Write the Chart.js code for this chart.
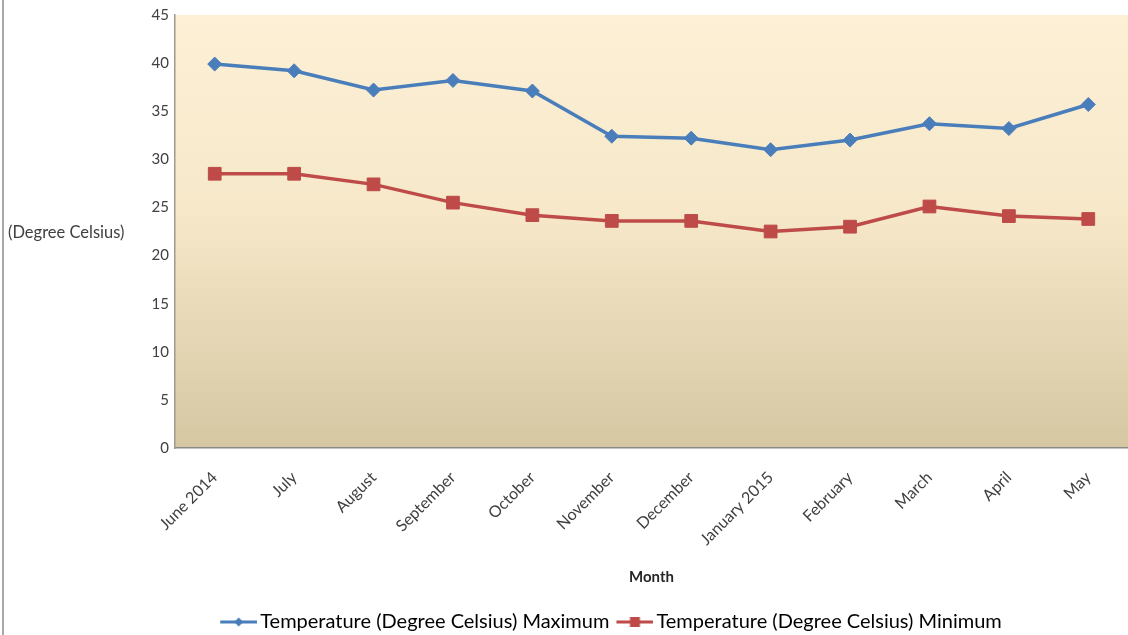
<!DOCTYPE html>
<html>
<head>
<meta charset="utf-8">
<script src="https://cdn.jsdelivr.net/npm/chart.js@4.4.1/dist/chart.umd.min.js"></script>
<style>
  html, body { margin: 0; padding: 0; background: #fff; }
  #wrap { width: 1128px; height: 635px; position: relative; }
</style>
</head>
<body>
<div id="wrap"><canvas id="chart" width="1128" height="635"></canvas></div>
<script>
const months = ['June 2014', 'July', 'August', 'September', 'October', 'November',
  'December', 'January 2015', 'February', 'March', 'April', 'May'];
const tempMax = [39.9, 39.2, 37.2, 38.2, 37.1, 32.4, 32.2, 31.0, 32.0, 33.7, 33.2, 35.7];
const tempMin = [28.5, 28.5, 27.4, 25.5, 24.2, 23.6, 23.6, 22.5, 23.0, 25.1, 24.1, 23.8];
const yMin = 0;
const yMax = 45;
const yStep = 5;

const FONT = 'Lato, "Open Sans", sans-serif';
const BLUE = '#4a7ebb';
const RED = '#be4b48';

// legend symbol: short line with the marker in the middle (drawn off-centre so
// the gap to the text is small, like the spreadsheet legend)
function legendIcon(color, shape) {
  const c = document.createElement('canvas');
  c.width = 48;
  c.height = 16;
  const g = c.getContext('2d');
  g.strokeStyle = color;
  g.lineWidth = 3;
  g.beginPath();
  g.moveTo(11, 8);
  g.lineTo(48, 8);
  g.stroke();
  g.fillStyle = color;
  g.beginPath();
  if (shape === 'diamond') {
    g.moveTo(29.5, 3.5); g.lineTo(34, 8); g.lineTo(29.5, 12.5); g.lineTo(25, 8);
  } else {
    g.rect(24.5, 3, 10, 10);
  }
  g.closePath();
  g.fill();
  return c;
}

const plotBackground = {
  id: 'plotBackground',
  beforeDraw(chart) {
    const { ctx, chartArea: a } = chart;
    const grad = ctx.createLinearGradient(0, a.top, 0, a.bottom);
    grad.addColorStop(0, '#fdf0d6');
    grad.addColorStop(0.45, '#f6e8c9');
    grad.addColorStop(1, '#d6c7a3');
    ctx.save();
    ctx.fillStyle = grad;
    ctx.fillRect(a.left, a.top, a.right - a.left, a.bottom - a.top);
    // outer frame on the left
    ctx.fillStyle = '#a8a8a8';
    ctx.fillRect(2, 0, 2, chart.height);
    ctx.restore();
  },
  afterDraw(chart) {
    const { ctx, chartArea: a } = chart;
    ctx.save();
    ctx.font = '16.5px ' + FONT;
    ctx.fillStyle = '#404040';
    ctx.textAlign = 'left';
    ctx.textBaseline = 'middle';
    ctx.fillText('(Degree Celsius)', 8, (a.top + a.bottom) / 2 + 1);
    ctx.restore();
  }
};

new Chart(document.getElementById('chart'), {
  type: 'line',
  data: {
    labels: months,
    datasets: [
      {
        label: 'Temperature (Degree Celsius) Maximum',
        data: tempMax,
        borderColor: BLUE,
        backgroundColor: BLUE,
        borderWidth: 3.5,
        pointStyle: 'rectRot',
        pointRadius: 7,
        pointBorderWidth: 1,
        tension: 0,
      },
      {
        label: 'Temperature (Degree Celsius) Minimum',
        data: tempMin,
        borderColor: RED,
        backgroundColor: RED,
        borderWidth: 3.5,
        pointStyle: 'rect',
        pointRadius: 9,
        pointBorderWidth: 1,
        tension: 0,
      },
    ],
  },
  options: {
    responsive: false,
    animation: false,
    layout: {
      autoPadding: false,
      padding: { left: 90, right: 0, top: 14, bottom: -7 },
    },
    plugins: {
      tooltip: { enabled: false },
      legend: {
        position: 'bottom',
        labels: {
          usePointStyle: true,
          pointStyleWidth: 34,
          padding: 3,
          color: '#404040',
          font: { family: FONT, size: 20 },
          generateLabels(chart) {
            return chart.data.datasets.map((ds, i) => ({
              text: ds.label,
              fillStyle: ds.borderColor,
              strokeStyle: ds.borderColor,
              lineWidth: 0,
              pointStyle: legendIcon(ds.borderColor, i === 0 ? 'diamond' : 'square'),
              datasetIndex: i,
              hidden: false,
            }));
          },
        },
      },
    },
    scales: {
      x: {
        offset: true,
        grid: { display: false, drawTicks: false },
        border: { color: '#8a8a8a', width: 1.5 },
        ticks: {
          minRotation: 45,
          maxRotation: 45,
          padding: 20,
          color: '#404040',
          font: { family: FONT, size: 16 },
        },
        title: {
          display: true,
          text: 'Month',
          color: '#262626',
          font: { family: FONT, size: 15, weight: 'bold' },
          padding: { top: 0, bottom: 23 },
        },
        afterFit(scale) {
          scale.height = 161;
          scale.paddingLeft = 0;
          scale.paddingRight = 0;
        },
      },
      y: {
        min: yMin,
        max: yMax,
        grid: { display: false, drawTicks: false },
        border: { color: '#a09a8a', width: 1.5 },
        ticks: {
          stepSize: yStep,
          padding: 6,
          color: '#404040',
          font: { family: FONT, size: 15 },
        },
        afterFit(scale) { scale.width = 85; },
      },
    },
  },
  plugins: [plotBackground],
});
</script>
</body>
</html>
